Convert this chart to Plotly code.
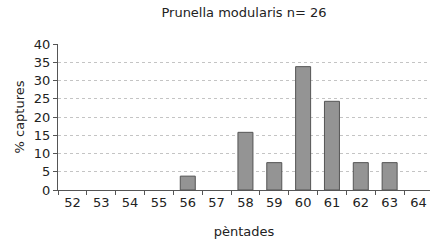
import plotly.graph_objects as go

categories = ["52", "53", "54", "55", "56", "57", "58", "59", "60", "61", "62", "63", "64"]
values = [0, 0, 0, 0, 3.8, 0, 15.8, 7.5, 33.8, 24.3, 7.5, 7.5, 0]
y_ticks = [0, 5, 10, 15, 20, 25, 30, 35, 40]

font = "DejaVu Sans, sans-serif"
plot_y = [v if v > 0 else None for v in values]

fig = go.Figure(go.Bar(
    x=categories, y=plot_y, width=0.52,
    marker=dict(color="#949494", line=dict(color="#555555", width=1)),
))

fig.update_layout(
    width=430, height=245,
    margin=dict(l=58, r=0, t=44, b=55),
    paper_bgcolor="white", plot_bgcolor="white",
    showlegend=False,
    font=dict(family=font, size=13, color="#222222"),
    title=dict(text="Prunella modularis n= 26", x=0.5, xref="paper", xanchor="center",
               y=1 - 12 / 245, yanchor="middle", font=dict(size=13, color="#222222")),
)
fig.update_xaxes(
    type="category", range=[-0.5, 12.4], automargin=False,
    tickson="boundaries", ticks="outside", ticklen=4, tickcolor="#555555",
    showline=True, linecolor="#555555", linewidth=1,
    showgrid=False,
    title=dict(text="pèntades", font=dict(size=13), standoff=18),
    tickfont=dict(size=13),
)
fig.update_yaxes(
    range=[0, 40], tickvals=y_ticks, automargin=False,
    ticks="outside", ticklen=4, tickcolor="#555555",
    showline=True, linecolor="#555555", linewidth=1,
    showgrid=True, gridcolor="#c4c4c4", griddash="dot", gridwidth=1,
    zeroline=False,
    title=dict(text="% captures", font=dict(size=13), standoff=6),
    tickfont=dict(size=13),
)

fig.write_html(
    "out.html",
    config={"displayModeBar": False},
    post_script="document.body.style.margin='0';document.body.style.overflow='hidden';",
)
